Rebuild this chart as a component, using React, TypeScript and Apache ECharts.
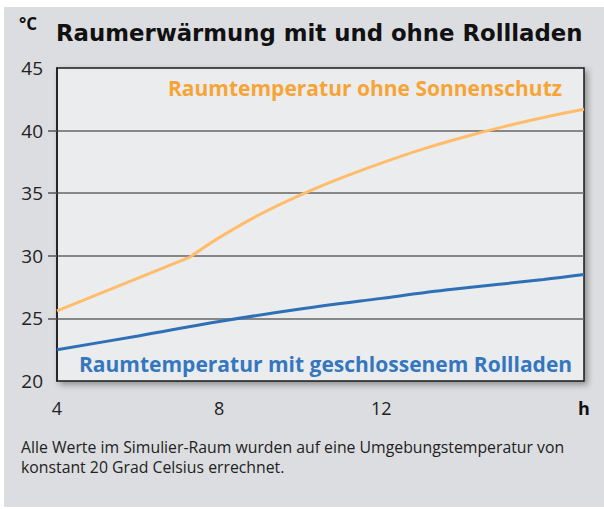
import React, { useEffect, useRef } from "react";
import * as echarts from "echarts";

const seriesNames = [
  "Raumtemperatur ohne Sonnenschutz",
  "Raumtemperatur mit geschlossenem Rollladen",
];
// ohne Sonnenschutz: straight rise until the kink, then a curve
const hoursOhneA = [4, 7.28];
const tempOhneA = [25.6, 29.9];
const hoursOhneB = [7.28, 8, 9, 10, 11, 12, 13, 14, 15, 16, 17];
const tempOhneB = [29.9, 31.45, 33.3, 34.85, 36.2, 37.4, 38.5, 39.45, 40.3, 41.05, 41.7];
const hoursMit = [4, 6, 8, 10, 12, 13.7, 16, 17];
const tempMit = [22.5, 23.6, 24.75, 25.75, 26.6, 27.3, 28.1, 28.5];
const xTickLabels = [4, 8, 12, 17];
const yTicks = [25, 30, 35, 40];
const title = "Raumerwärmung mit und ohne Rollladen";
const unitY = "°C";
const unitX = "h";
const footnote = [
  "Alle Werte im Simulier-Raum wurden auf eine Umgebungstemperatur von",
  "konstant 20 Grad Celsius errechnet.",
];

export default function App() {
  const ref = useRef<HTMLDivElement>(null);
  useEffect(() => {
    if (!ref.current) return;
    const chart = echarts.init(ref.current, null, { renderer: "svg" });
    const font = "'Open Sans', 'Noto Sans', sans-serif";
    const orange = { color: "#ffbd6c", width: 3 };
    chart.setOption({
      animation: false,
      backgroundColor: "transparent",
      textStyle: { fontFamily: font },
      grid: {
        show: true,
        left: 57,
        top: 68,
        right: 20,
        bottom: 128,
        backgroundColor: "#ebeced",
        borderColor: "#1a1a1a",
        borderWidth: 1.5,
        shadowColor: "rgba(0,0,0,0.35)",
        shadowBlur: 6,
        shadowOffsetX: 3,
        shadowOffsetY: 3,
      },
      xAxis: {
        type: "value",
        min: 4,
        max: 17,
        interval: 1,
        axisLine: { show: false },
        axisTick: { show: false },
        splitLine: { show: false },
        axisLabel: {
          customValues: xTickLabels,
          margin: 18,
          fontSize: 18,
          color: "#222",
          fontFamily: font,
          formatter: (v: number) => (v === 17 ? "{b|" + unitX + "}" : String(v)),
          rich: { b: { fontWeight: "bold", fontSize: 18, color: "#111", fontFamily: font } },
        },
      },
      yAxis: {
        type: "value",
        min: 20,
        max: 45,
        interval: 5,
        axisLine: { show: true, lineStyle: { color: "#1a1a1a", width: 1.5 } },
        axisTick: {
          show: true,
          customValues: yTicks,
          length: 9,
          lineStyle: { color: "#555", width: 1.5 },
        },
        splitLine: { show: true, lineStyle: { color: "#666", width: 1.5 } },
        axisLabel: { margin: 14, fontSize: 19, color: "#222", fontFamily: font },
      },
      series: [
        {
          name: seriesNames[0],
          type: "line",
          data: hoursOhneA.map((h, i) => [h, tempOhneA[i]]),
          showSymbol: false,
          lineStyle: orange,
          z: 3,
        },
        {
          name: seriesNames[0],
          type: "line",
          data: hoursOhneB.map((h, i) => [h, tempOhneB[i]]),
          smooth: 0.35,
          showSymbol: false,
          lineStyle: orange,
          z: 3,
        },
        {
          name: seriesNames[1],
          type: "line",
          data: hoursMit.map((h, i) => [h, tempMit[i]]),
          smooth: 0.35,
          showSymbol: false,
          lineStyle: { color: "#2e70b6", width: 3 },
          z: 3,
        },
      ],
      graphic: [
        {
          type: "text",
          left: 19,
          top: 15,
          style: { text: unitY, font: "bold 17px " + font, fill: "#111" },
        },
        {
          type: "text",
          left: 56,
          top: 21,
          style: { text: title, font: "bold 22.8px 'DejaVu Sans', sans-serif", fill: "#111" },
        },
        {
          type: "text",
          left: 168,
          top: 77,
          style: { text: seriesNames[0], font: "bold 21px " + font, fill: "#f7a437" },
        },
        {
          type: "text",
          left: 79,
          top: 353,
          style: { text: seriesNames[1], font: "bold 21px " + font, fill: "#3577bf" },
        },
        {
          type: "text",
          left: 21,
          top: 437,
          style: {
            text: footnote.join("\n"),
            font: "15.8px " + font,
            lineHeight: 20,
            fill: "#222",
          },
        },
      ],
    });
    return () => chart.dispose();
  }, []);
  return (
    <div style={{ position: "fixed", left: 0, top: 0, width: 604, height: 509, background: "#fff" }}>
      <div style={{ position: "absolute", left: 4, top: 7, width: 600, height: 500, background: "#dcdde0" }} />
      <div ref={ref} style={{ position: "absolute", left: 0, top: 0, width: 604, height: 509 }} />
    </div>
  );
}
